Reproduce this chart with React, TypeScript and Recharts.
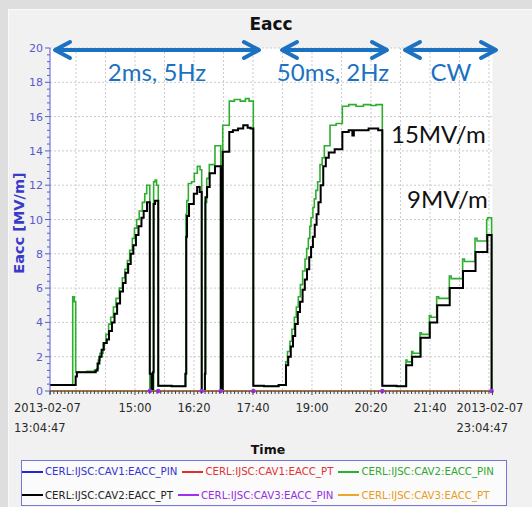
import { LineChart, Line, XAxis, YAxis, CartesianGrid } from "recharts";

// minutes after 2013-02-07 13:04:47
const cav2PinTime = [
  0, 30.8, 33.0, 34.8, 50, 60,
  63.3, 65.5, 67.8, 72, 75.9, 79.5, 82.3, 86, 89.5, 94, 98.1, 101.5, 104.9, 108, 111.6, 114.5, 117.5, 121, 125.2, 128.5, 131.1,
  135.3, 140.5, 142.5, 144.5, 146.8, 165,
  184.3, 185.5, 187.6, 192, 195.7, 199.8, 203.5, 205.7,
  210.2, 212.5, 216, 223.7, 231.5, 234.2, 243.1, 250, 258, 265, 270, 275.7, 290, 310,
  319.6, 322, 325.4, 328, 331.3, 334, 336.7, 339.5, 342.5, 345.8, 348, 350.3, 352.3, 353.9, 356.5, 358.4, 360.5, 362.9, 366.1, 369, 372, 379.7, 388, 396.4, 405, 415, 425, 435, 442, 450.6, 470,
  482.7, 484, 490.4, 492, 501.7, 503.5, 514.4, 516.5, 524.3, 527, 541.5, 544, 559.5, 562, 576.3, 579, 592.1, 593.5, 598.8, 600,
];
const cav2PinValue = [
  0.35, 5.5, 5.2, 1.1, 1.15, 1.2,
  1.3, 1.8, 2.2, 2.8, 3.3, 3.9, 4.3, 4.9, 5.4, 6.0, 6.6, 7.1, 7.6, 8.2, 8.9, 9.5, 10.0, 10.5, 11.0, 11.5, 12.0,
  0, 12.2, 12.3, 12.0, 0.3, 0.28,
  10.3, 11.1, 12.1, 12.2, 12.7, 13.1, 12.9, 0,
  11.0, 12.4, 13.2, 14.3, 0, 15.5, 16.9, 17.0, 16.9, 17.05, 16.9, 0.3, 0.28, 0.35,
  1.7, 2.3, 2.9, 3.6, 4.3, 4.9, 5.5, 6.2, 7.0, 7.7, 8.3, 8.9, 9.6, 10.1, 10.7, 11.2, 11.7, 12.2, 13.2, 13.6, 14.3, 15.5, 15.6, 16.6, 16.7, 16.6, 16.7, 16.65, 16.7, 0.3, 0.28,
  1.8, 1.7, 2.3, 2.2, 3.4, 3.3, 4.4, 4.3, 5.5, 5.4, 6.7, 6.55, 7.7, 7.55, 8.9, 8.75, 10.0, 10.1, 0, 0,
];

const cav2PtTime = [
  0, 34.8, 36.5, 55, 62,
  64.5, 67, 70, 73, 77, 80, 84, 87.5, 91, 95, 99, 102.5, 106, 109.5, 113, 116.5, 120, 124, 127, 131.5,
  135.3, 137.5, 139.5, 140.5, 142.5, 146.8, 165,
  183.5, 184.8, 185.8, 188.5, 195, 199.5, 203, 205.7,
  210, 210.8, 213, 216.5, 223.7, 231.5, 234.2, 243.1, 248, 255, 262, 268, 272, 275.7, 290, 310,
  320, 323, 326.5, 329.5, 332.5, 336, 339, 342.5, 345.5, 348.5, 351.5, 354, 356.5, 359, 361.5, 364, 367, 370.5, 374, 378, 386, 396.4, 405, 410, 412, 420, 432, 445, 450.6, 470,
  483, 491, 502.5, 515, 525, 542, 560, 577, 593, 598.8, 600,
];
const cav2PtValue = [
  0.35, 0.85, 1.1, 1.1, 1.2,
  1.6, 2.0, 2.4, 2.8, 3.0, 3.5, 4.0, 4.5, 5.1, 5.8, 6.3, 6.9, 7.4, 8.0, 8.5, 9.1, 9.6, 10.1, 10.5, 11.0,
  1.0, 0, 1.1, 10.9, 11.1, 0.3, 0.28,
  1.0, 9.0, 10.2, 10.9, 11.5, 11.9, 11.6, 0,
  1.0, 11.3, 11.9, 12.7, 13.1, 0, 13.95, 15.1, 15.2, 15.3, 15.5, 15.35, 15.3, 0.3, 0.28, 0.35,
  1.5, 2.0, 2.6, 3.2, 3.9, 4.6, 5.2, 5.9, 6.5, 7.1, 7.8, 8.4, 9.0, 9.7, 10.3, 11.0, 12.0, 13.1, 13.6, 13.9, 14.1, 15.1, 15.2, 14.9, 15.2, 15.2, 15.3, 15.2, 0.3, 0.28,
  1.5, 2.0, 3.1, 4.0, 5.0, 6.0, 7.0, 8.1, 9.1, 0, 0,
];

const zeroTime = [0, 600];
const zeroValue = [0, 0];
const cav3PinTime = [135.3, 146.8, 205.7, 231.5, 275.7, 450.6, 598.8];
const cav3PinValue = [0, 0, 0, 0, 0, 0, 0];

const yMajorTicks = [0, 2, 4, 6, 8, 10, 12, 14, 16, 18, 20];
const yMinorStep = 0.4;
const timeTickValues = [0, 115.22, 195.22, 275.22, 355.22, 435.22, 515.22, 600];
const timeTickLabels = [
  ["2013-02-07", "13:04:47"],
  ["15:00"],
  ["16:20"],
  ["17:40"],
  ["19:00"],
  ["20:20"],
  ["21:40"],
  ["2013-02-07", "23:04:47"],
];
const gridTimes = [35.22, 75.22, 115.22, 155.22, 195.22, 235.22, 275.22, 315.22, 355.22, 395.22, 435.22, 475.22, 515.22, 555.22, 595.22];

const series = [
  { name: "CERL:IJSC:CAV1:EACC_PIN", color: "#2424d4", text: "#3434d0" },
  { name: "CERL:IJSC:CAV1:EACC_PT", color: "#e52a2a", text: "#e03434" },
  { name: "CERL:IJSC:CAV2:EACC_PIN", color: "#2eae2e", text: "#30a830" },
  { name: "CERL:IJSC:CAV2:EACC_PT", color: "#000000", text: "#222222" },
  { name: "CERL:IJSC:CAV3:EACC_PIN", color: "#a030f0", text: "#9530e0" },
  { name: "CERL:IJSC:CAV3:EACC_PT", color: "#f0a428", text: "#e89c20" },
];

const toPoints = (times: number[], values: number[]) => times.map((t, i) => ({ t, v: values[i] }));

const yTicks = Array.from({ length: Math.round(20 / yMinorStep) + 1 }, (_, k) => +(k * yMinorStep).toFixed(2));
const xTicks = [0, ...Array.from({ length: 120 }, (_, k) => 0.22 + 5 * k), 600];

const tickFont = "'DejaVu Sans', Verdana, sans-serif";
const blue = "#1c72c0";

function XTick(props: any) {
  const { x, y, payload } = props;
  const idx = timeTickValues.findIndex((v) => Math.abs(v - payload.value) < 0.01);
  if (idx < 0) {
    return <line x1={x} y1={y} x2={x} y2={y + 3} stroke="#444" />;
  }
  const lines = timeTickLabels[idx];
  return (
    <g>
      <line x1={x} y1={y} x2={x} y2={y + 4} stroke="#444" />
      {lines.length === 1 ? (
        <text x={x} y={y + 21} textAnchor="middle" fontSize={11.5} fill="#2a2a2a" fontFamily={tickFont}>
          {lines[0]}
        </text>
      ) : (
        lines.map((s, i) => (
          <text key={i} x={x - 36} y={y + 21 + i * 20} textAnchor="start" fontSize={11.5} fill="#2a2a2a" fontFamily={tickFont}>
            {s}
          </text>
        ))
      )}
    </g>
  );
}

function YTick(props: any) {
  const { x, y, payload } = props;
  const major = yMajorTicks.some((v) => Math.abs(v - payload.value) < 0.01);
  return (
    <g>
      <line x1={x - (major ? 5 : 3)} y1={y} x2={x} y2={y} stroke="#5b5bd6" />
      {major && (
        <text x={x - 7} y={y + 4} textAnchor="end" fontSize={11} fill="#5a5acc" fontFamily={tickFont}>
          {payload.value}
        </text>
      )}
    </g>
  );
}

function Arrow({ x1, x2, y }: { x1: number; x2: number; y: number }) {
  return (
    <g stroke={blue} strokeWidth={4} fill="none" strokeLinecap="round" strokeLinejoin="round">
      <line x1={x1 + 2} y1={y} x2={x2 - 2} y2={y} />
      <polyline points={`${x1 + 15},${y - 8} ${x1},${y} ${x1 + 15},${y + 8}`} />
      <polyline points={`${x2 - 15},${y - 8} ${x2},${y} ${x2 - 15},${y + 8}`} />
    </g>
  );
}

export default function App() {
  return (
    <div style={{ position: "fixed", left: 0, top: 0, width: 532, height: 507, background: "#dedede", overflow: "hidden" }}>
      <div
        style={{
          position: "absolute",
          left: 8,
          top: 9,
          width: 524,
          height: 498,
          background: "#f1f1f1",
          borderLeft: "1px solid #fafafa",
          borderTop: "1px solid #fafafa",
        }}
      />
      <div style={{ position: "absolute", left: 0, top: 0 }}>
        <LineChart width={532} height={507} margin={{ top: 48, right: 39.5, bottom: 60, left: 10 }}>
          <CartesianGrid
            fill="#ffffff"
            stroke="#cacaca"
            strokeDasharray="2 2"
            horizontalValues={yMajorTicks}
            verticalValues={gridTimes}
          />
          <XAxis
            type="number"
            dataKey="t"
            domain={[0, 600]}
            ticks={xTicks}
            interval={0}
            tick={(p: any) => <XTick {...p} />}
            tickLine={false}
            tickSize={0}
            tickMargin={0}
            height={56}
            axisLine={{ stroke: "#555" }}
          />
          <YAxis
            type="number"
            domain={[0, 20]}
            ticks={yTicks}
            interval={0}
            tick={(p: any) => <YTick {...p} />}
            tickLine={false}
            tickSize={0}
            tickMargin={0}
            width={40}
            axisLine={{ stroke: "#5b5bd6" }}
          />
          <Line data={toPoints(zeroTime, zeroValue)} dataKey="v" type="linear" stroke={series[0].color} dot={false} isAnimationActive={false} />
          <Line data={toPoints(zeroTime, zeroValue)} dataKey="v" type="linear" stroke={series[1].color} dot={false} isAnimationActive={false} />
          <Line
            data={toPoints(cav2PinTime, cav2PinValue)}
            dataKey="v"
            type="stepAfter"
            stroke={series[2].color}
            strokeWidth={1.6}
            dot={false}
            isAnimationActive={false}
          />
          <Line
            data={toPoints(cav2PtTime, cav2PtValue)}
            dataKey="v"
            type="stepAfter"
            stroke={series[3].color}
            strokeWidth={2}
            dot={false}
            isAnimationActive={false}
          />
          <Line
            data={toPoints(cav3PinTime, cav3PinValue)}
            dataKey="v"
            type="linear"
            stroke={series[4].color}
            dot={{ r: 2.3, fill: series[4].color, stroke: "none" }}
            isAnimationActive={false}
          />
          <Line data={toPoints(zeroTime, zeroValue)} dataKey="v" type="linear" stroke={series[5].color} strokeWidth={1.5} dot={false} isAnimationActive={false} />
        </LineChart>
      </div>
      <svg width={532} height={507} style={{ position: "absolute", left: 0, top: 0, pointerEvents: "none" }}>
        <text x={271} y={30} textAnchor="middle" fontSize={17} fontWeight="bold" fill="#111" fontFamily={tickFont}>
          Eacc
        </text>
        <text x={268} y={454} textAnchor="middle" fontSize={12.5} fontWeight="bold" fill="#111" fontFamily={tickFont}>
          Time
        </text>
        <text
          x={24}
          y={223}
          transform="rotate(-90 24 223)"
          textAnchor="middle"
          fontSize={14.5}
          fontWeight="bold"
          fill="#3a3ac8"
          fontFamily={tickFont}
        >
          Eacc [MV/m]
        </text>
        <Arrow x1={55} x2={259} y={50} />
        <Arrow x1={282} x2={387} y={50} />
        <Arrow x1={405} x2={496} y={50} />
        <g fontFamily="Lato, 'Open Sans', sans-serif" fontSize={24}>
          <text x={157} y={81} textAnchor="middle" fill={blue}>2ms, 5Hz</text>
          <text x={333} y={81} textAnchor="middle" fill={blue}>50ms, 2Hz</text>
          <text x={451} y={81} textAnchor="middle" fill={blue}>CW</text>
          <text x={391} y={143} fill="#111">15MV/m</text>
          <text x={407} y={208} fill="#111">9MV/m</text>
        </g>
      </svg>
      <div
        style={{
          position: "absolute",
          left: 21,
          top: 460,
          width: 486,
          height: 46,
          boxSizing: "border-box",
          border: "1px solid #7676d6",
          background: "#fbfbfb",
          fontFamily: tickFont,
          fontSize: 10.2,
        }}
      >
        {[series.slice(0, 3), series.slice(3)].map((row, r) => (
          <div key={r} style={{ position: "absolute", left: 0, top: r === 0 ? 3 : 26.5, height: 15, display: "flex", alignItems: "center", whiteSpace: "nowrap" }}>
            {row.map((s) => (
              <div key={s.name} style={{ display: "flex", alignItems: "center", marginRight: 5 }}>
                <div style={{ width: 21, height: 2, background: s.color, marginRight: 2 }} />
                <span style={{ color: s.text }}>{s.name}</span>
              </div>
            ))}
          </div>
        ))}
      </div>
    </div>
  );
}
